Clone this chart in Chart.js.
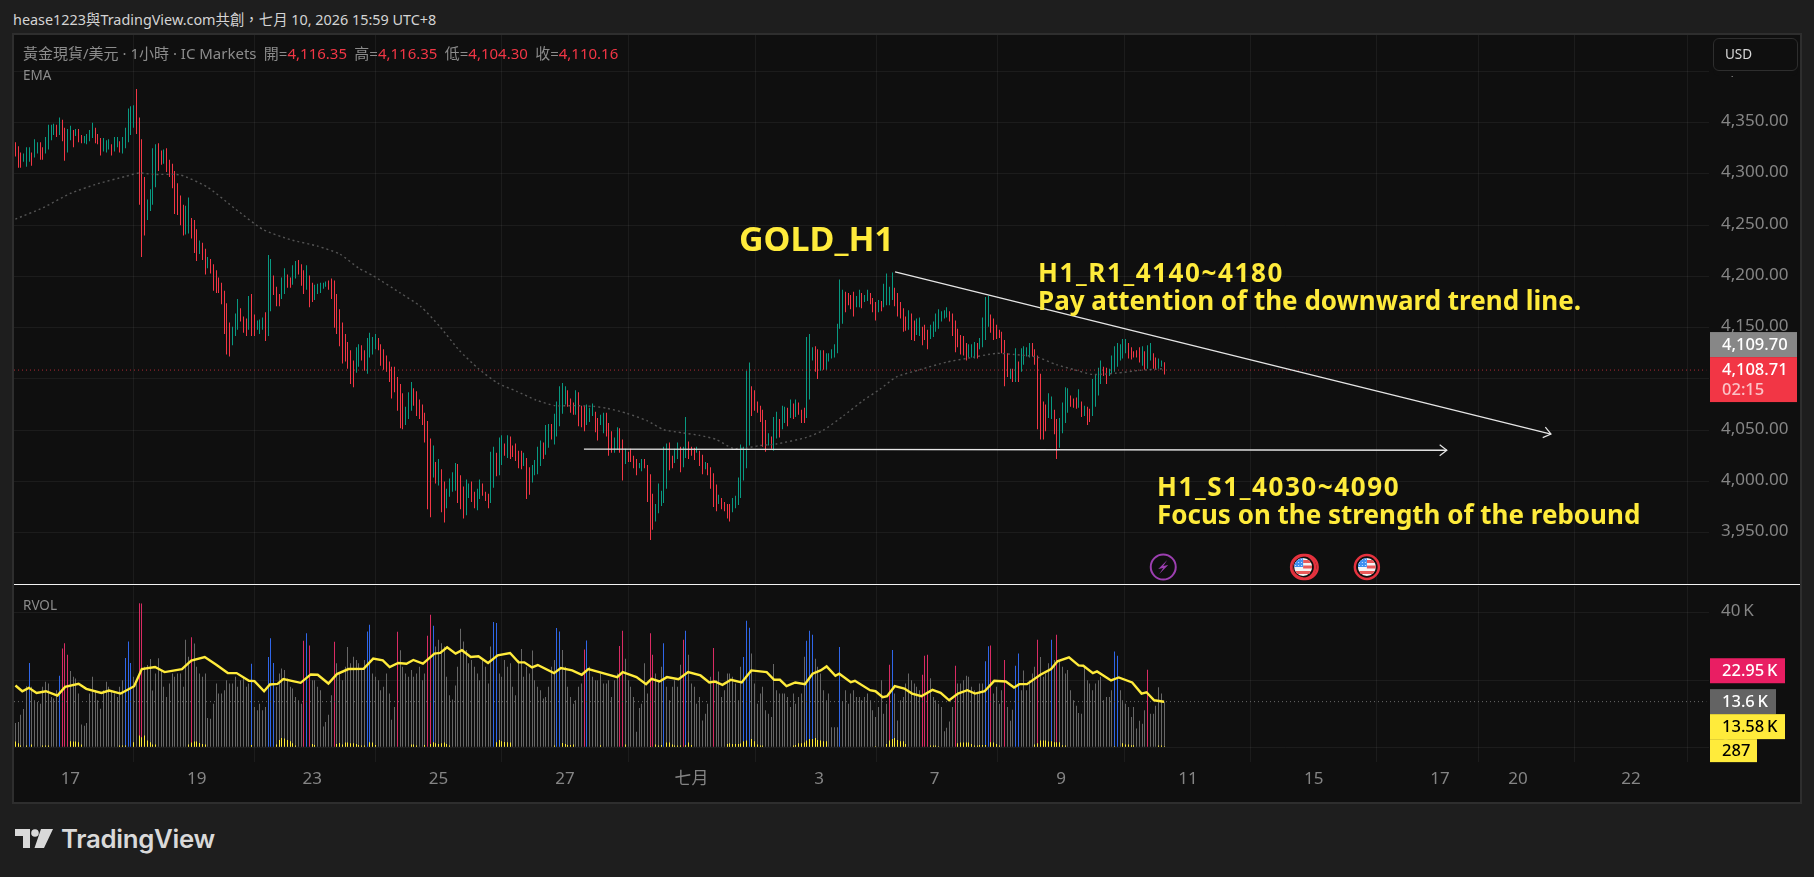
<!DOCTYPE html>
<html lang="zh-Hant">
<head>
<meta charset="utf-8">
<title>GOLD_H1</title>
<script src="https://cdn.jsdelivr.net/npm/chart.js@4/dist/chart.umd.js"></script>
<style>
  html, body { margin: 0; padding: 0; background: #1e1e1e; overflow: hidden; }
  body { width: 1814px; height: 877px; position: relative; font-family: "Noto Sans", "Noto Sans CJK TC", sans-serif; }
  #frame { position: absolute; left: 12px; top: 33px; width: 1786px; height: 767px; border: 2px solid #2e2e2e; background: #0f0f0f; }
  canvas { position: absolute; left: 14px; }
  #priceCanvas { top: 35px; }
  #volumeCanvas { top: 585px; }
  #sep { position: absolute; left: 14px; top: 584px; width: 1786px; height: 1px; background: #f2f2f2; }
  .txt { position: absolute; white-space: nowrap; }
  #header { left: 13px; top: 10px; font-size: 14.4px; line-height: 20px; color: #d4d4d4; }
  #legend { left: 23px; top: 44px; font-size: 15px; line-height: 18px; color: #8c8c8c; }
  #legend b { font-weight: 400; color: #f23645; }
  #legend span { margin-left: 7.3px; }
  .paneLabel { font-size: 13.5px; line-height: 18px; color: #8c8c8c; left: 23px; }
  #usd { position: absolute; left: 1713px; top: 38px; width: 72px; height: 31px; padding-left: 11px; border: 1px solid #2e2e2e; border-radius: 6px; background: #0f0f0f; box-shadow: 0 5px 0 0 #0f0f0f; color: #d8d8d8; font-size: 13.5px; line-height: 31px; }
  .note { color: #ffeb3b; font-weight: 700; font-size: 26px; line-height: 28px; }
  .note i { font-style: normal; letter-spacing: 1.6px; }
  #brand { left: 61px; top: 822px; font-family: Inter, sans-serif; font-size: 25.8px; line-height: 34px; font-weight: 600; color: #d9d9d9; letter-spacing: -0.3px; }
  #logo { position: absolute; left: 15px; top: 829px; }
</style>
</head>
<body>
<div id="frame"></div>
<canvas id="priceCanvas" width="1786" height="549"></canvas>
<canvas id="volumeCanvas" width="1786" height="218"></canvas>
<div id="sep"></div>

<div class="txt" id="header">hease1223與TradingView.com共創，七月 10, 2026 15:59 UTC+8</div>
<div class="txt" id="legend">黃金現貨/美元 · 1小時 · IC Markets<span>開=<b>4,116.35</b></span><span>高=<b>4,116.35</b></span><span>低=<b>4,104.30</b></span><span>收=<b>4,110.16</b></span></div>
<div class="txt paneLabel" style="top:66px">EMA</div>
<div class="txt paneLabel" style="top:596px">RVOL</div>
<div id="usd">USD</div>

<div class="txt note" style="left:739px;top:217px;font-size:34px;line-height:42px">GOLD_H1</div>
<div class="txt note" style="left:1038px;top:258px"><i>H1_R1_4140~4180</i><br>Pay attention of the downward trend line.</div>
<div class="txt note" style="left:1157px;top:472px"><i>H1_S1_4030~4090</i><br>Focus on the strength of the rebound</div>

<svg id="logo" width="38" height="19" viewBox="0 0 38 19">
  <path d="M0 0H15V19H8V7H0Z M26 0H38L29 19H19.5Z" fill="#d9d9d9"/>
  <circle cx="20" cy="4" r="3.8" fill="#d9d9d9"/>
</svg>
<div class="txt" id="brand">TradingView</div>

<script>
  // hourly highs and lows, one entry per bar
  const priceHighs = [
    4331,4327,4321,4320,4326,4326,4321,4334,4331,4331,
    4326,4336,4348,4348,4349,4348,4355,4353,4345,4344,
    4347,4343,4344,4344,4338,4337,4339,4343,4350,4345,
    4339,4335,4335,4333,4334,4329,4336,4336,4332,4336,
    4345,4364,4366,4367,4383,4355,4334,4297,4275,4285,
    4325,4329,4330,4323,4324,4325,4314,4310,4303,4291,
    4279,4270,4269,4277,4257,4255,4246,4235,4233,4227,
    4219,4217,4212,4206,4199,4194,4186,4174,4155,4151,
    4164,4178,4169,4161,4159,4181,4183,4163,4157,4158,
    4160,4165,4221,4217,4201,4190,4183,4199,4208,4202,
    4199,4211,4215,4216,4212,4206,4211,4201,4194,4192,
    4193,4194,4194,4195,4196,4198,4196,4183,4168,4155,
    4144,4136,4128,4118,4131,4134,4133,4128,4140,4145,
    4141,4144,4140,4134,4129,4123,4117,4112,4112,4102,
    4095,4086,4073,4087,4097,4091,4088,4080,4075,4067,
    4059,4042,4035,4019,4022,4012,4000,3993,4003,4009,
    4018,4017,4006,3995,4002,3998,4000,3990,3993,4002,
    3998,3990,3988,4029,4034,4028,4043,4045,4037,4045,
    4044,4035,4037,4030,4030,4028,4023,4014,4016,4021,
    4034,4040,4038,4055,4056,4056,4066,4078,4093,4096,
    4093,4089,4081,4077,4089,4087,4074,4074,4075,4072,
    4076,4068,4062,4065,4067,4067,4057,4049,4043,4053,
    4052,4041,4032,4029,4032,4025,4022,4018,4022,4022,
    4016,4007,3988,3978,3998,3991,4034,4037,4038,4025,
    4032,4038,4034,4034,4063,4039,4034,4033,4034,4030,
    4026,4019,4018,4014,4008,3997,3987,3984,3980,3978,
    3978,3984,3986,4004,4036,4034,4108,4116,4093,4089,
    4078,4074,4070,4060,4047,4044,4063,4068,4061,4074,
    4073,4072,4080,4076,4080,4077,4070,4072,4141,4144,
    4131,4132,4129,4128,4128,4125,4125,4129,4134,4154,
    4197,4187,4185,4184,4182,4185,4181,4187,4184,4182,
    4187,4184,4179,4175,4177,4176,4193,4203,4190,4204,
    4189,4184,4175,4169,4161,4167,4164,4157,4159,4160,
    4151,4153,4148,4153,4156,4164,4168,4166,4167,4170,
    4166,4164,4157,4149,4143,4142,4135,4134,4134,4136,
    4135,4140,4160,4180,4181,4163,4159,4153,4148,4146,
    4138,4125,4110,4110,4130,4117,4130,4132,4131,4135,
    4135,4129,4123,4105,4078,4075,4086,4083,4070,4061,
    4062,4077,4092,4091,4084,4081,4082,4090,4078,4074,
    4073,4071,4100,4104,4111,4118,4112,4111,4110,4123,
    4132,4135,4134,4139,4139,4135,4131,4127,4128,4131,
    4132,4127,4133,4135,4125,4121,4120,4118,4116.35
  ];
  const priceLows = [
    4317,4306,4306,4312,4307,4312,4308,4316,4320,4314,
    4314,4320,4324,4333,4338,4336,4338,4332,4313,4321,
    4333,4326,4337,4331,4330,4330,4329,4332,4335,4330,
    4329,4318,4322,4321,4324,4318,4322,4326,4321,4320,
    4325,4331,4338,4345,4339,4270,4219,4240,4255,4264,
    4270,4287,4303,4309,4310,4302,4297,4286,4261,4260,
    4250,4240,4241,4242,4237,4223,4215,4222,4216,4202,
    4208,4203,4186,4184,4184,4173,4144,4124,4122,4133,
    4142,4148,4156,4145,4142,4148,4142,4142,4148,4144,
    4148,4137,4142,4166,4182,4171,4171,4178,4183,4189,
    4189,4192,4198,4202,4191,4183,4187,4170,4175,4177,
    4183,4184,4188,4190,4187,4178,4150,4144,4132,4115,
    4117,4110,4095,4092,4106,4112,4118,4108,4105,4121,
    4124,4129,4128,4113,4109,4107,4097,4081,4087,4069,
    4052,4051,4055,4061,4069,4074,4064,4061,4055,4038,
    3973,3965,4004,3998,3996,3970,3960,3974,3985,3990,
    3991,3979,3973,3964,3967,3984,3980,3974,3972,3983,
    3986,3981,3974,3979,3994,4005,4006,4016,4025,4023,
    4022,4024,4020,4013,4012,4015,3983,3987,3999,4006,
    4007,4015,4022,4026,4033,4041,4036,4044,4054,4066,
    4075,4073,4067,4065,4065,4054,4053,4049,4055,4058,
    4064,4048,4040,4055,4047,4044,4025,4028,4028,4031,
    4028,4001,4017,4019,4019,4013,4006,4013,4010,4013,
    3980,3943,3953,3961,3969,3976,3979,3993,4011,4013,
    4018,4022,4009,4014,4023,4022,4025,4021,4028,4015,
    4007,4012,4006,3993,3975,3971,3978,3973,3971,3964,
    3961,3970,3974,3977,3984,4001,4013,4035,4064,4069,
    4067,4058,4034,4029,4035,4032,4030,4042,4043,4051,
    4057,4054,4062,4061,4063,4065,4057,4057,4062,4080,
    4118,4107,4100,4108,4109,4109,4117,4120,4121,4125,
    4149,4154,4165,4172,4168,4161,4170,4170,4169,4175,
    4176,4173,4165,4157,4165,4166,4170,4172,4172,4177,
    4171,4161,4159,4146,4147,4148,4138,4137,4143,4142,
    4133,4138,4129,4139,4141,4146,4149,4156,4159,4160,
    4156,4142,4126,4131,4124,4123,4118,4121,4121,4120,
    4120,4129,4131,4138,4151,4145,4138,4139,4140,4125,
    4093,4102,4100,4097,4097,4097,4107,4114,4122,4121,
    4122,4114,4051,4041,4041,4049,4062,4061,4046,4022,
    4033,4047,4057,4067,4073,4072,4071,4072,4063,4064,
    4055,4058,4064,4073,4084,4095,4103,4095,4103,4105,
    4107,4112,4118,4120,4125,4120,4119,4121,4121,4116,
    4113,4109,4110,4118,4110,4109,4110,4112,4104.30
  ];
  // u = closed up, d = closed down
  const priceDirs = [
    "ddduuuduud","duuuududdu","ududduuuud","dduuuduudu","uuuudddduu","uudduddddd",
    "dduudddudd","uddddddddu","uudddudduu","uduuddduud","duuddduddu","uuuudddddd",
    "dddduudduu","uudddddddd","dduuuddddd","ddududduuu","uddduudduu","ddduuduudu",
    "dddddudduu","uuduuduuuu","uddduddduu","udduuddduu","ddudddduud","ddduuuuudd",
    "uuduudddud","dudddduddd","duuuuuuudd","dddduduudu","udududdduu","udduduuuuu",
    "uudddduudu","uddduduuuu","dddddudduu","ddduuuuuuu","ddddddduuu","duuuuddddd",
    "ddududuuuu","dddddduudd","uuuudddudu","dduuuudduu","uuuuuddddd","uduudduud"
  ].join("");

  // EMA, read at selected bars
  const emaBars = [0,10,20,30,40,45,50,60,70,80,90,100,110,118,125,130,140,147.6,154.5,161.5,168.5,175.5,182.4,189.4,196.4,203.3,210.4,215.3,222.5,229.8,235.8,243,249,255,261,266,270.8,276.9,287.9,294,301.3,308.5,314.6,320.6,329,338.9,346,357,363,371.6,378.8,385,392,400.7,409,417.5];
  const emaValues = [4256,4267,4281,4290.5,4297.6,4301,4299.6,4299,4287,4266,4246,4236,4229.6,4222,4208,4201,4184,4170.5,4151,4128,4110,4096,4088,4079.5,4074,4074,4073.3,4071.4,4066.5,4059.4,4050.6,4047.4,4045,4041,4032.4,4032.7,4035,4036.6,4043,4050,4064,4079,4090,4102,4109,4116.5,4120,4125,4124,4121.5,4114,4109.3,4104.4,4105.7,4108.4,4110];

  // volume in thousands, one entry per bar
  const volumes = [
    7.2,7.5,9.7,11.4,18.2,25.1,18,14,13.5,13,
    18,19.5,19,15,14.5,17,21.3,29.4,31,27.6,
    22.7,21,20.5,16,6.8,6.4,7.2,16,21,17,
    14,11.5,17,19.5,18,17,16,15,18,20,
    26.6,31.5,25.1,21,19,42.9,42.8,24,24.5,26.3,
    16.9,22,26.5,23,18,15,19,22,21,22,
    22,18,32,27,32.8,30.9,24,22,21,22,
    8.7,8.5,13,19,16,16,17,20,19,19,
    21,18,20,21,18,19,24.9,12,11,13,
    11,12,26.9,32.5,25.1,18,22,23.5,23,20.5,
    18,17.5,15,14,13,31.7,34,30.3,20,20,
    18,17,6.2,7.5,9.7,15.5,31.4,25,22,20,
    24,29.9,25,27,26,25,23,26,34.5,36.5,
    22,21,20,17,18,22,16,8.2,12,34.4,
    28.9,24,22,21,23,21,22,24,20,22,
    33.2,39.5,36.2,30,32,31,30,21,15.5,14.2,
    18.4,24,35.3,31.5,29,25,26,24,22,20,
    26,24,19,30,37.3,37,22,21,26,24,
    25,18,15.5,26,29.3,21,24,22,28.8,20,
    18,17,14.5,15,18,24,26,35.5,34.5,29,
    24,18,15,13,14,18,19,29.1,31.8,24,
    21,20,20,22,19,19,20,15,20,22,
    30.2,34.7,26.4,20,18,15,4.6,11.7,13,25,
    16,34,27.6,22,20,24,31,18,14,18,
    20,18,24.6,32,34.7,27.6,19,18,13,15,
    8,10,13,21,29.6,20,22.6,15,17,22,
    22,21,19,14,24,26.9,37.7,35.6,27.9,19,
    13,16,18,11,10,9,24.8,17,16,16,
    16,15,12,16,13,15,16,27,31.7,34.7,
    33.5,26.4,24,22,17,14,16,6,6,6,
    29.9,13.7,17,13,16,17,15,15,14,15,
    16,14,11,9,12,20,10,13,24.6,29,
    16,8,14,15,19,22,20,19,18,17,
    21.6,27.3,27.6,20.6,15,14,13,12,4.8,5.8,
    7.7,12,24.3,19,19,20,21.3,21,18,17,
    16,19,19,25.6,30.1,30.3,16,18,13,17,
    26,12,7.9,11.2,24.3,27.9,17,22.9,17,20,
    22,24,32,26.9,21,22,25,32,26,33.5,
    26,24,22,23,17,14,12.4,10.2,10,23.9,
    20,19,17,19,20,21,14,15,15,17,
    28.5,27.3,17,14,13,12,9,12,5.6,7.9,
    7,11,23.1,10,10,12.4,17.9,16,13.6
  ];
  const blueBars = [5,16,40,41,42,86,92,93,94,106,128,129,152,174,175,197,198,208,236,244,265,266,267,288,289,290,300,319,353,354,364,365,377,400,401];
  const pinkBars = [17,18,19,45,46,64,105,107,116,139,150,151,207,220,221,231,232,243,254,318,330,331,332,342,355,360,372,379,412];

  // small yellow histogram along the volume baseline
  const lowBars = [0,1,2,4,6,10,11,12,20,21,22,23,24,38,39,40,43,45,46,47,48,49,50,51,63,64,65,66,67,68,69,86,95,96,97,98,99,100,101,102,108,109,117,118,119,120,121,122,123,124,125,126,127,129,130,131,144,145,146,149,151,152,153,154,155,156,157,158,175,176,177,178,179,180,196,199,200,201,202,203,213,222,231,233,234,235,237,238,239,240,241,242,244,245,246,259,260,261,262,263,264,265,266,268,269,270,271,272,283,284,285,286,287,288,289,290,291,292,293,294,295,313,317,318,319,320,321,322,323,324,333,334,335,336,343,344,345,346,347,348,349,350,351,352,353,355,356,357,358,371,372,373,374,375,376,377,378,379,380,381,382,400,403,404,405,406,407,416,417,418];
  const lowValues = [1.7,1.2,.5,.5,.8,.5,.5,.5,1.8,1.7,1.7,1.5,.8,.5,.5,.5,1.5,3.5,3,3.5,2,1.5,.8,.8,.8,1.4,1.7,1.7,1.3,1,.8,.7,.8,2.2,2.8,2.6,2.2,1.8,1.2,.5,1,.7,1,1.3,.8,1.4,1.4,1.2,1.2,1,.7,.5,.5,1.5,1.4,.7,.8,.8,.5,.7,1,1.5,1.2,1,1.2,1.4,1,.5,1.5,2.2,1.8,1.6,1.5,1.4,.5,1.3,1,.7,.7,.8,.6,.8,.3,.8,.5,.7,1.4,1.4,.8,.5,.5,.5,.6,1.4,.7,1,1.2,1,1,1,1.1,1.8,2,2.5,1.8,.8,.5,.5,.5,.7,1.2,1.2,1.4,2,2.5,2.5,2.8,2.2,2,1.8,1.8,.3,1,2,2.5,2.8,2.2,1.8,1.8,1,.5,.5,.5,.3,1.2,1.4,1.4,1.4,1.4,1,.5,.5,.7,.7,.7,1.5,1.4,1,.5,.8,1.2,2,2,2,1.7,1.8,1.5,1.5,1.5,.6,.5,.3,1.2,.8,.8,.6,.6,.5,.5,.287];

  // yellow relative-volume average
  const rvolBars = [0,2.5,4.9,7.7,11.1,15.3,18.1,23,25.8,31.3,34.1,38.3,43.2,46,50.8,54.3,60.6,64,68.9,73.1,77.3,80.5,85,87,90.5,92.6,95.4,97.5,103.8,107.5,110,113.9,117,121.2,126.7,130.2,133.7,136.2,139.3,142.3,144.8,148.3,152.5,154.6,157.1,160.2,162.5,165.7,168.5,172,175.5,180,183.1,185.2,188,190.1,196,198.5,202.6,206.1,208.5,212.8,219,221,226,229.5,231.5,234.4,237.1,241.3,244.8,249.3,252.5,254.5,257.3,260.4,264.3,267.8,273.4,276.1,278.2,280.6,283.8,287.3,290.1,293,295.2,298.4,299.8,304,305.5,311,313,315.6,317.2,320,323.5,326.3,329.7,333.7,336.7,339.8,343,346.4,349.2,352.7,356.2,360.4,363.4,365.3,368.1,373,376.9,379.2,383.4,386.9,388.6,392.1,393.6,398.7,401.5,406.4,409.8,411.6,414.4,418];
  const rvolValues = [18.4,16.7,17.7,16.2,16.7,15.4,18,18.9,17.4,16.2,16.9,16,18.2,23.3,23.9,22.4,23.3,25.8,26.9,24.6,22.1,22.1,19.8,19.7,16.7,18.7,18.9,20.3,19.2,21.7,21.6,19,21.8,23.3,23.4,26.4,25.9,23.9,25.1,24.9,26,24.9,27.9,28.1,29.8,27.9,28.9,26.9,27.1,25.1,27.4,28.1,25.3,25.3,23.8,24.5,22.1,23.6,22.9,21.6,23.3,22.3,20.9,22.4,20.9,18.8,20.4,19.6,20.9,20.3,22.4,21.4,19.3,19.6,18.6,20.1,19.3,22.9,22.4,20.1,20.1,18.2,19.3,18.8,21.9,22.9,24.1,21.3,21.9,19.4,19.8,17,16.7,14.9,15.2,18.2,17.5,16,15.2,17.1,16.2,14,16,17,16,16.7,19.8,19.6,17.8,18.8,18.8,21.6,23.3,25.6,26.8,24.4,24.3,22.1,22.6,19.9,20.8,19.3,16,16.4,14,13.58];

  // axis labels, placed by bar number
  const dayTicks = [20,66,108,154,200,246,292.5,334.5,380.5,426.7,472.5,518.4,546.8,587.9];
  const dayLabels = ["17","19","23","25","27","七月","3","7","9","11","15","17","20","22"];
  const priceTicks = [3950,4000,4050,4100,4150,4200,4250,4300,4350,4400];
  const volumeTicks = [0,20,40];

  // drawn lines: falling resistance and flat support
  const trendBars = [320.1,558.8];
  const trendPrices = [4204.6,4046.3];
  const supportBars = [206.9,520.9];
  const supportPrices = [4031.5,4030.5];

  const lastPrice = 4108.71;
  const eventBars = [417.7,468.6,491.8];
  const eventKinds = ["bolt","flag2","flag"];

  const BAR_MIN = -0.51, BAR_MAX = 616.3;
  const UP = "#089981", DOWN = "#f23645";
  const GRID = "rgba(255,255,255,0.055)";
  const AXIS_TEXT = "#858585";
  const AXIS_FONT = { family: '"Noto Sans", "Noto Sans CJK TC", sans-serif', size: 17 };

  const pts = (xs, ys) => xs.map((x, i) => ({ x, y: ys[i] }));

  // keep one pixel bars on the pixel grid, otherwise they smear over two columns
  const snapBars = {
    id: "snapBars",
    beforeDatasetsDraw(chart){
      chart.data.datasets.forEach((ds, n) => {
        if (ds.type === "line") return;
        chart.getDatasetMeta(n).data.forEach(el => { el.x = Math.floor(el.x) + 0.5; });
      });
    }
  };

  function drawTag(ctx, left, top, width, height, bg, lines){
    ctx.fillStyle = bg;
    ctx.fillRect(left, top, width, height);
    ctx.textBaseline = "middle";
    ctx.textAlign = "left";
    lines.forEach(l => {
      ctx.font = '500 16.5px "Noto Sans", sans-serif';
      ctx.fillStyle = l.color;
      ctx.fillText(l.text, left + 12, top + l.dy);
    });
  }

  function drawArrow(ctx, x0, y0, x1, y1){
    const a = Math.atan2(y1 - y0, x1 - x0);
    ctx.strokeStyle = "#e6e6e6";
    ctx.lineWidth = 1.2;
    ctx.beginPath();
    ctx.moveTo(x1 - 9 * Math.cos(a - 0.65), y1 - 9 * Math.sin(a - 0.65));
    ctx.lineTo(x1, y1);
    ctx.lineTo(x1 - 9 * Math.cos(a + 0.65), y1 - 9 * Math.sin(a + 0.65));
    ctx.stroke();
  }

  function drawEvent(ctx, x, y, kind){
    if (kind === "bolt"){
      ctx.strokeStyle = "#9c3fb0";
      ctx.lineWidth = 2;
      ctx.beginPath(); ctx.arc(x, y, 12.5, 0, Math.PI * 2); ctx.stroke();
      ctx.fillStyle = "#9c3fb0";
      ctx.beginPath();
      ctx.moveTo(x + 4, y - 7); ctx.lineTo(x - 5, y + 2); ctx.lineTo(x, y + 1);
      ctx.lineTo(x - 4, y + 7); ctx.lineTo(x + 5, y - 2); ctx.lineTo(x, y - 1);
      ctx.closePath(); ctx.fill();
      return;
    }
    ctx.strokeStyle = "#e5323e";
    ctx.lineWidth = 2.5;
    if (kind === "flag2"){ ctx.beginPath(); ctx.arc(x + 2.5, y, 12, 0, Math.PI * 2); ctx.stroke(); }
    ctx.beginPath(); ctx.arc(x, y, 12, 0, Math.PI * 2); ctx.stroke();
    ctx.save();
    ctx.beginPath(); ctx.arc(x, y, 10, 0, Math.PI * 2);
    ctx.fillStyle = "#111"; ctx.fill();
    ctx.beginPath(); ctx.arc(x, y, 9, 0, Math.PI * 2); ctx.clip();
    ctx.fillStyle = "#f5f5f5"; ctx.fillRect(x - 9, y - 9, 18, 18);
    ctx.fillStyle = "#ea5a5a";
    ctx.fillRect(x, y - 7, 9, 3);
    ctx.fillRect(x, y - 1.5, 9, 3);
    ctx.fillRect(x - 9, y + 4, 18, 3);
    ctx.fillStyle = "#3f8ff0"; ctx.fillRect(x - 9, y - 9, 9, 9);
    ctx.fillStyle = "#cfe3ff";
    for (let a = 0; a < 3; a++) for (let b = 0; b < 3; b++) ctx.fillRect(x - 8 + a * 3, y - 8 + b * 3, 1, 1);
    ctx.restore();
  }

  const priceOverlay = {
    id: "priceOverlay",
    afterDraw(chart){
      const { ctx } = chart;
      const xs = chart.scales.x, ys = chart.scales.y;
      ctx.save();
      drawArrow(ctx, xs.getPixelForValue(trendBars[0]), ys.getPixelForValue(trendPrices[0]),
        xs.getPixelForValue(trendBars[1]), ys.getPixelForValue(trendPrices[1]));
      drawArrow(ctx, xs.getPixelForValue(supportBars[0]), ys.getPixelForValue(supportPrices[0]),
        xs.getPixelForValue(supportBars[1]), ys.getPixelForValue(supportPrices[1]));
      eventBars.forEach((b, i) => drawEvent(ctx, xs.getPixelForValue(b), chart.chartArea.bottom - 17, eventKinds[i]));

      const left = chart.chartArea.right + 1;
      const py = ys.getPixelForValue(lastPrice);
      drawTag(ctx, left, py - 38, 87, 25, "#878787", [{ text: "4,109.70", color: "#fff", dy: 13 }]);
      drawTag(ctx, left, py - 13, 87, 45, "#f23645", [
        { text: "4,108.71", color: "#fff", dy: 13 },
        { text: "02:15", color: "rgba(255,255,255,0.7)", dy: 33 }
      ]);
      ctx.restore();
    }
  };

  const volumeOverlay = {
    id: "volumeOverlay",
    afterDraw(chart){
      const { ctx } = chart;
      const ys = chart.scales.y;
      const left = chart.chartArea.right + 1;
      ctx.save();
      const pink = ys.getPixelForValue(22.95);
      drawTag(ctx, left, pink - 12, 75, 25, "#e91e63", [{ text: "22.95\u2009K", color: "#fff", dy: 13 }]);
      const last = ys.getPixelForValue(13.6);
      drawTag(ctx, left, last - 12.5, 66, 25, "#636363", [{ text: "13.6\u2009K", color: "#fff", dy: 13 }]);
      drawTag(ctx, left, last + 12.5, 75, 25, "#ffeb3b", [{ text: "13.58\u2009K", color: "#000", dy: 13 }]);
      drawTag(ctx, left, last + 37.5, 47, 23, "#ffeb3b", [{ text: "287", color: "#000", dy: 12 }]);
      ctx.restore();
    }
  };

  const xAxis = (showLabels, height) => ({
    type: "linear",
    min: BAR_MIN,
    max: BAR_MAX,
    offset: false,
    grid: { color: GRID, drawTicks: false, lineWidth: 1 },
    border: { display: false },
    afterBuildTicks(axis){ axis.ticks = dayTicks.map(value => ({ value })); },
    afterFit(axis){ axis.height = height; axis.paddingLeft = 0; axis.paddingRight = 0; },
    ticks: {
      display: showLabels,
      autoSkip: false,
      maxRotation: 0,
      padding: 7,
      color: AXIS_TEXT,
      font: AXIS_FONT,
      callback(value){ return dayLabels[dayTicks.indexOf(value)]; }
    }
  });

  const yAxis = (min, max, list, format) => ({
    type: "linear",
    position: "right",
    min,
    max,
    grid: { color: GRID, drawTicks: false },
    border: { display: false },
    afterBuildTicks(axis){ axis.ticks = list.map(value => ({ value })); },
    // labels may hang over the pane edge, the plot keeps its full height
    afterFit(axis){ axis.width = 91; axis.paddingTop = 0; axis.paddingBottom = 0; },
    ticks: { padding: 12, labelOffset: -1.5, color: AXIS_TEXT, font: AXIS_FONT, callback: format }
  });

  Chart.defaults.animation = false;
  Chart.defaults.responsive = false;

  new Chart(document.getElementById("priceCanvas"), {
    type: "bar",
    plugins: [snapBars, priceOverlay],
    data: {
      datasets: [
        {
          label: "candles",
          order: 4,
          data: priceHighs.map((h, i) => ({ x: i, y: [priceLows[i], h] })),
          backgroundColor: priceHighs.map((_, i) => priceDirs[i] === "u" ? UP : DOWN),
          barThickness: 1,
          inflateAmount: 0,
          grouped: false
        },
        {
          type: "line", label: "last", order: 3,
          data: pts([BAR_MIN, BAR_MAX - 1], [lastPrice, lastPrice]),
          borderColor: "rgba(242,54,69,0.7)", borderWidth: 1, borderDash: [1, 3], pointRadius: 0
        },
        {
          type: "line", label: "EMA", order: 2,
          data: pts(emaBars, emaValues),
          borderColor: "#555555", borderWidth: 1.4, borderDash: [2, 3], pointRadius: 0, tension: 0.2
        },
        {
          type: "line", label: "trend", order: 1,
          data: pts(trendBars, trendPrices),
          borderColor: "#e6e6e6", borderWidth: 1.3, pointRadius: 0
        },
        {
          type: "line", label: "support", order: 1,
          data: pts(supportBars, supportPrices),
          borderColor: "#e6e6e6", borderWidth: 1.3, pointRadius: 0
        }
      ]
    },
    options: {
      maintainAspectRatio: false,
      layout: { padding: 0 },
      plugins: { legend: { display: false }, tooltip: { enabled: false } },
      scales: {
        x: xAxis(false, 0),
        y: yAxis(3900, 4435.6, priceTicks, v => v.toLocaleString("en-US", { minimumFractionDigits: 2, maximumFractionDigits: 2 }))
      }
    }
  });

  new Chart(document.getElementById("volumeCanvas"), {
    type: "bar",
    plugins: [snapBars, volumeOverlay],
    data: {
      datasets: [
        {
          label: "volume",
          order: 4,
          data: volumes.map((v, i) => ({ x: i, y: v })),
          backgroundColor: volumes.map((_, i) => blueBars.includes(i) ? "#2f66e8" : pinkBars.includes(i) ? "#d92b63" : "#666666"),
          barThickness: 1,
          inflateAmount: 0,
          grouped: false
        },
        {
          label: "low",
          order: 3,
          data: pts(lowBars, lowValues),
          backgroundColor: "#ffeb3b",
          barThickness: 1,
          inflateAmount: 0,
          grouped: false,
          minBarLength: 1
        },
        {
          type: "line", label: "last volume", order: 2,
          data: pts([BAR_MIN, BAR_MAX - 1], [13.6, 13.6]),
          borderColor: "#6a6a6a", borderWidth: 1, borderDash: [1, 3], pointRadius: 0
        },
        {
          type: "line", label: "RVOL", order: 1,
          data: pts(rvolBars, rvolValues),
          borderColor: "#ffeb3b", borderWidth: 2.4, pointRadius: 0
        }
      ]
    },
    options: {
      maintainAspectRatio: false,
      layout: { padding: { top: 1 } },
      plugins: { legend: { display: false }, tooltip: { enabled: false } },
      scales: {
        x: xAxis(true, 41),
        y: yAxis(-4.38, 48.04, volumeTicks, v => v === 0 ? "0" : v + "\u2009K")
      }
    }
  });
</script>
</body>
</html>
